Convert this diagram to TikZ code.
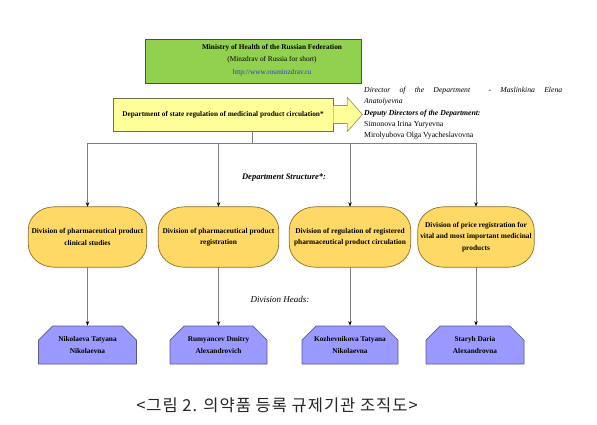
\documentclass[tikz,border=0pt]{standalone}
\usepackage{fontspec}
\setmainfont{Liberation Serif}
\newfontfamily\krfont[LetterSpace=6]{Noto Sans CJK KR}
\usetikzlibrary{shapes.misc,arrows.meta,calc,backgrounds}
\definecolor{grfill}{RGB}{146,208,80}
\definecolor{grborder}{RGB}{80,80,80}
\definecolor{yefill}{RGB}{255,255,153}
\definecolor{yeborder}{RGB}{110,110,90}
\definecolor{arborder}{RGB}{160,150,80}
\definecolor{ovfill}{RGB}{255,217,102}
\definecolor{ovborder}{RGB}{140,110,40}
\definecolor{pufill}{RGB}{153,153,255}
\definecolor{puborder}{RGB}{90,90,140}
\definecolor{lineg}{RGB}{128,128,128}
\definecolor{urlblue}{RGB}{40,60,200}
\tikzset{
  conn/.style={draw=lineg, line width=0.7pt},
  arr/.style={conn, -{Stealth[length=4.5pt,width=3.5pt,black]}},
  greenbox/.style={draw=grborder, fill=grfill, line width=0.7pt},
  yelbox/.style={draw=yeborder, fill=yefill, line width=0.7pt, font=\bfseries\fontsize{7.3}{9}\selectfont},
  ovaltext/.style={align=center, font=\bfseries\fontsize{7.4}{11.5}\selectfont, inner sep=0pt},
  ovaldraw/.style={draw=ovborder, fill=ovfill, line width=0.7pt},
  headbox/.style={shape=chamfered rectangle, chamfered rectangle corners={north west,north east},
    chamfered rectangle xsep=7pt, chamfered rectangle ysep=7pt,
    draw=puborder, fill=pufill, line width=0.7pt, align=center, inner sep=0pt,
    font=\bfseries\fontsize{7.3}{12}\selectfont, minimum height=38pt},
  lbl/.style={font=\itshape\fontsize{9}{11}\selectfont}
}
\newcommand{\ovalshape}[1]{%
 \path[ovaldraw] ($(#1.north west)+(26,0)$) -- ($(#1.north east)+(-26,0)$)
   .. controls ($(#1.north east)+(-11.7,0)$) and ($(#1.north east)+(0,10.3)$) .. ($(#1.north east)+(0,23)$)
   -- ($(#1.south east)+(0,-23)$)
   .. controls ($(#1.south east)+(0,-10.3)$) and ($(#1.south east)+(-11.7,0)$) .. ($(#1.south east)+(-26,0)$)
   -- ($(#1.south west)+(26,0)$)
   .. controls ($(#1.south west)+(11.7,0)$) and ($(#1.south west)+(0,-10.3)$) .. ($(#1.south west)+(0,-23)$)
   -- ($(#1.north west)+(0,23)$)
   .. controls ($(#1.north west)+(0,10.3)$) and ($(#1.north west)+(11.7,0)$) .. ($(#1.north west)+(26,0)$) -- cycle;}
\begin{document}
\begin{tikzpicture}[x=1pt,y=-1pt]
\useasboundingbox (0,0) rectangle (597,424);

% top boxes
\node[greenbox, minimum width=216pt, minimum height=44pt] (min) at (253,61) {};
\node[align=center, inner sep=0pt, font=\fontsize{7.3}{12.5}\selectfont] (mintext) at (272,60)
  {\textbf{Ministry of Health of the Russian Federation}\\(Minzdrav of Russia for short)\\\textcolor{urlblue}{http://www.rosminzdrav.ru}};

\node[yelbox, minimum width=220pt, minimum height=33pt] (dep) at (223,114.5) {Department of state regulation of medicinal product circulation*};

% block arrow
\path[fill=yefill] ($(dep.east)+(0,-9)$) -- ($(dep.east)+(14,-9)$) -- ($(dep.east)+(14,-17)$) -- ($(dep.east)+(29,0)$)
  -- ($(dep.east)+(14,17)$) -- ($(dep.east)+(14,9)$) -- ($(dep.east)+(0,9)$) -- cycle;
\draw[draw=arborder, line width=0.7pt] ($(dep.east)+(0,-9)$) -- ($(dep.east)+(14,-9)$) -- ($(dep.east)+(14,-17)$) -- ($(dep.east)+(29,0)$)
  -- ($(dep.east)+(14,17)$) -- ($(dep.east)+(14,9)$) -- ($(dep.east)+(0,9)$);

\node[anchor=north west, inner sep=0pt, align=left, font=\fontsize{7.7}{11.2}\selectfont] (dir) at (364,87)
  {\hbox to 198pt{\itshape Director\hfil of\hfil the\hfil Department\hfil\hfil -\hfil Maslinkina\hfil Elena}\\
   {\itshape Anatolyevna}\\
   {\bfseries\itshape Deputy Directors of the Department:}\\
   Simonova Irina Yuryevna\\
   Mirolyubova Olga Vyacheslavovna};

% divisions
\node[ovaltext, minimum width=118pt, minimum height=60pt] (d1) at (87.5,237) {Division of pharmaceutical product\\clinical studies};
\node[ovaltext, minimum width=120pt, minimum height=60pt] (d2) at (218.5,237) {Division of pharmaceutical product\\registration};
\node[ovaltext, minimum width=121pt, minimum height=60pt] (d3) at (350,237) {Division of regulation of registered\\pharmaceutical product circulation};
\node[ovaltext, minimum width=116pt, minimum height=60pt] (d4) at (476,237) {Division of price registration for\\vital and most important medicinal\\products};
\begin{pgfonlayer}{background}
\fill[white] (0,0) rectangle (597,424);
\ovalshape{d1}\ovalshape{d2}\ovalshape{d3}\ovalshape{d4}
\end{pgfonlayer}

% heads
\node[headbox, minimum width=98pt] (h1) at (87.5,345) {Nikolaeva Tatyana\\Nikolaevna};
\node[headbox, minimum width=97pt] (h2) at (218.5,345) {Rumyancev Dmitry\\Alexandrovich};
\node[headbox, minimum width=96pt] (h3) at (350,345) {Kozhevnikova Tatyana\\Nikolaevna};
\node[headbox, minimum width=98pt] (h4) at (475,345) {Staryh Daria\\Alexandrovna};

% labels
\node[lbl, font=\bfseries\itshape\fontsize{8.5}{10}\selectfont] (ds) at (284,178) {Department Structure*:};
\node[lbl] (dh) at (280,299) {Division Heads:};

% connectors
\coordinate (bus) at (252,143);
\coordinate (b1) at (d1.north |- bus);
\coordinate (b4) at (d4.north |- bus);
\draw[conn] (dep.south -| bus) -- (bus);
\draw[conn] (b1) -- (b4);
\foreach \i in {1,2,3,4} {
  \draw[arr] (d\i.north |- bus) -- (d\i.north);
  \draw[arr] (d\i.south) -- (d\i.south |- h\i.north);
}

% caption
\node[font=\krfont\fontsize{16.5}{18}\selectfont, text=black!85] (cap) at (277,405) {<그림 2. 의약품 등록 규제기관 조직도>};
\end{tikzpicture}
\end{document}
